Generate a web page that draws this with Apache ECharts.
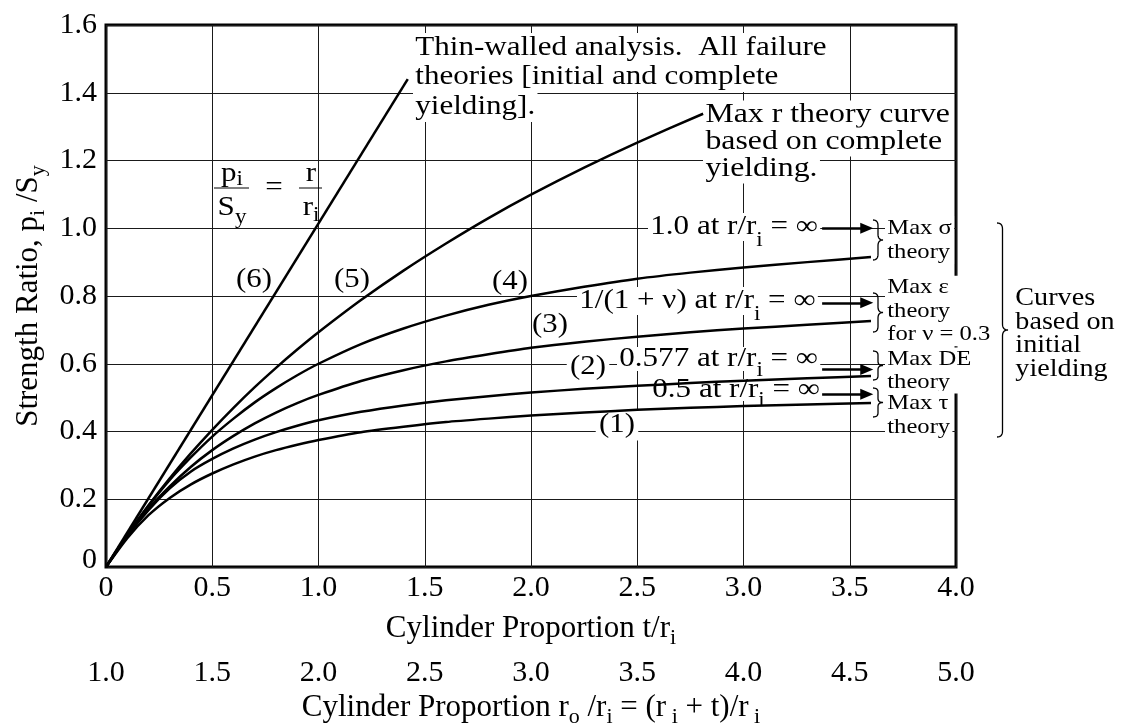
<!DOCTYPE html>
<html>
<head>
<meta charset="utf-8">
<script src="https://cdn.jsdelivr.net/npm/echarts@6/dist/echarts.min.js"></script>
<style>
  html, body { margin: 0; padding: 0; background: #fff; }
  #chart { width: 1124px; height: 725px; }
</style>
</head>
<body>
<div id="chart"></div>
<script>
// Thick-walled cylinder strength ratio chart: five theory curves plus the
// thin-walled straight line, annotated like the textbook figure.
const FONT = '"Liberation Serif", "Times New Roman", serif';

// t/r_i sample points and curve values
const tValues = [0, 0.1, 0.2, 0.3, 0.4, 0.5, 0.6, 0.7, 0.8, 0.9, 1.0, 1.2, 1.4, 1.6, 1.8, 2.0, 2.25, 2.5, 2.75, 3.0, 3.3, 3.6];
const maxShear = [0, 0.085, 0.153, 0.204, 0.244, 0.276, 0.303, 0.326, 0.345, 0.361, 0.375, 0.398, 0.414, 0.428, 0.438, 0.447, 0.456, 0.464, 0.47, 0.475, 0.48, 0.484];         // (1)
const maxDistortion = [0, 0.091, 0.168, 0.232, 0.282, 0.319, 0.35, 0.376, 0.398, 0.417, 0.433, 0.458, 0.477, 0.492, 0.504, 0.515, 0.526, 0.535, 0.543, 0.55, 0.557, 0.564]; // (2)
const maxStrain = [0, 0.093, 0.172, 0.238, 0.296, 0.345, 0.387, 0.424, 0.456, 0.484, 0.508, 0.549, 0.581, 0.607, 0.628, 0.647, 0.665, 0.68, 0.693, 0.704, 0.715, 0.726];    // (3)
const maxNormal = [0, 0.095, 0.18, 0.257, 0.324, 0.385, 0.438, 0.486, 0.528, 0.566, 0.6, 0.658, 0.704, 0.742, 0.774, 0.8, 0.827, 0.851, 0.869, 0.884, 0.9, 0.915];        // (4)
const tComplete = [0, 0.1, 0.2, 0.3, 0.4, 0.5, 0.6, 0.7, 0.8, 0.9, 1.0, 1.2, 1.4, 1.6, 1.8, 2.0, 2.25, 2.5, 2.81];
const completeYield = [0, 0.095, 0.182, 0.262, 0.336, 0.405, 0.47, 0.531, 0.588, 0.642, 0.693, 0.788, 0.875, 0.955, 1.03, 1.099, 1.179, 1.253, 1.338];          // (5)
const tThin = [0, 1.42];
const thinWall = [0, 1.44];                                                                                                                                   // (6)

// limit values pointed at by the arrows, and where the arrows run (t/r_i)
const arrowLevels = [1.0, 0.78, 0.583, 0.51];
const arrowFrom = 3.37;
const arrowTo = 3.58;

const pairs = (xs, ys) => xs.map((x, i) => [x, ys[i]]);

const chart = echarts.init(document.getElementById('chart'));

// subscript for axis names: bottom-aligned in a taller line
const sub = (size, lh) => ({ fontFamily: FONT, fontSize: size, lineHeight: lh, verticalAlign: 'bottom' });

function arrowLine(level) {
  return {
    silent: true,
    symbol: ['none', 'triangle'],
    symbolSize: [11, 13],
    lineStyle: { color: '#000', width: 2.5, type: 'solid' },
    label: { show: false },
    data: [[{ coord: [arrowFrom, level] }, { coord: [arrowTo, level] }]],
  };
}

function curve(name, data, level) {
  const s = {
    name, type: 'line', data, xAxisIndex: 0, yAxisIndex: 0,
    showSymbol: false, smooth: 0.2, silent: true,
    lineStyle: { color: '#000', width: 2.5 },
    z: 3,
  };
  if (level != null) s.markLine = arrowLine(level);
  return s;
}

// annotation text helper (the scanned type is wider than Liberation Serif);
// subscripts are pushed down with top padding on the {s|..} token
function note(text, x, y, size, opts = {}) {
  return {
    type: 'text', x, y, z: 1, scaleX: opts.scaleX || 1.15,
    style: {
      text, fontFamily: FONT, fontSize: size, fill: '#000',
      align: opts.align || 'left', verticalAlign: 'middle',
      lineHeight: opts.lineHeight || Math.round(size * 1.1),
      backgroundColor: opts.bg === false ? null : '#fff',
      padding: opts.padding || [0, 2, 0, 2],
      rich: { s: { fontFamily: FONT, fontSize: opts.subSize || 20, padding: [opts.subPad || 16, 0, 0, 0] } },
    },
  };
}

// "}" drawn as a polyline through quadratic segments
function brace(x, y1, y2, w) {
  const mid = (y1 + y2) / 2, r = Math.min(6, (y2 - y1) / 7), h = x + w / 2;
  const segs = [
    [[x, y1], [h, y1], [h, y1 + r]],
    [[h, mid - r], [h, mid], [x + w, mid]],
    [[x + w, mid], [h, mid], [h, mid + r]],
    [[h, y2 - r], [h, y2], [x, y2]],
  ];
  const pts = [];
  segs.forEach(([p0, c, p1]) => {
    for (let k = 0; k <= 8; k++) {
      const u = k / 8;
      pts.push([
        (1 - u) * (1 - u) * p0[0] + 2 * u * (1 - u) * c[0] + u * u * p1[0],
        (1 - u) * (1 - u) * p0[1] + 2 * u * (1 - u) * c[1] + u * u * p1[1],
      ]);
    }
  });
  return { type: 'polyline', z: 1, shape: { points: pts }, style: { stroke: '#000', lineWidth: 1.3, fill: null } };
}

const graphics = [
  note('Thin-walled analysis.  All failure', 413, 48, 27),
  note('theories [initial and complete', 413, 77, 27),
  note('yielding].', 413, 107, 27),
  note('Max r theory curve', 703, 115, 26.5, { scaleX: 1.2 }),
  note('based on complete', 703, 142, 26.5, { scaleX: 1.2 }),
  note('yielding.', 703, 169, 26.5, { scaleX: 1.2 }),
  // p_i / S_y = r / r_i
  note('p{s|i}', 232, 174, 27, { align: 'center', bg: false, subPad: 12 }),
  note('S{s|y}', 232, 208, 27, { align: 'center', bg: false, subPad: 20 }),
  { type: 'line', z: 1, shape: { x1: 214, y1: 188, x2: 249, y2: 188 }, style: { stroke: '#000', lineWidth: 1 } },
  note('=', 274, 188, 27, { align: 'center', bg: false }),
  note('r', 311, 174, 27, { align: 'center', bg: false }),
  note('r{s|i}', 311, 208, 27, { align: 'center', bg: false, subPad: 16 }),
  { type: 'line', z: 1, shape: { x1: 299, y1: 188, x2: 322, y2: 188 }, style: { stroke: '#000', lineWidth: 1 } },
  // curve numbers
  note('(6)', 254, 280, 28, { align: 'center', bg: false, scaleX: 1.1 }),
  note('(5)', 352, 280, 28, { align: 'center', bg: false, scaleX: 1.1 }),
  note('(4)', 510, 282, 28, { align: 'center', bg: false, scaleX: 1.1 }),
  note('(3)', 550, 325, 28, { align: 'center', bg: false, scaleX: 1.1 }),
  note('(2)', 588, 367, 28, { align: 'center', scaleX: 1.1, padding: [0, 3, 0, 3] }),
  note('(1)', 617, 425, 28, { align: 'center', scaleX: 1.1, padding: [0, 3, 0, 3] }),
  // limits at r/r_i = infinity
  note('1.0 at r/r{s|i} = ∞', 648, 227, 27, { lineHeight: 28, subPad: 28 }),
  note('1/(1 + ν) at r/r{s|i} = ∞', 577, 301, 27, { lineHeight: 28, subPad: 28 }),
  note('0.577 at r/r{s|i} = ∞', 617, 359, 27, { lineHeight: 24, subPad: 24 }),
  note('0.5 at r/r{s|i} = ∞', 650, 390, 27, { lineHeight: 22, subPad: 22 }),
  // theory names on the right
  brace(873, 220, 260, 10),
  brace(873, 293, 332, 10),
  brace(873, 351, 380, 10),
  brace(873, 388, 417, 10),
  note('Max σ\ntheory', 885, 240, 22, { lineHeight: 24, scaleX: 1.12 }),
  note('Max ε\ntheory\nfor ν = 0.3', 885, 311, 22, { lineHeight: 23.5, scaleX: 1.12 }),
  note('Max DE\ntheory', 885, 370.5, 22, { lineHeight: 23, scaleX: 1.12 }),
  note('Max τ\ntheory', 885, 415, 22, { lineHeight: 24, scaleX: 1.12 }),
  brace(997, 223, 437, 11),
  note('Curves\nbased on\ninitial\nyielding', 1013, 334, 24.5, { lineHeight: 23.5, bg: false, scaleX: 1.15 }),
];

const tickLabel = { fontFamily: FONT, fontSize: 30, color: '#000' };
const nameStyle = {
  fontFamily: FONT, fontSize: 31, color: '#000', lineHeight: 40,
  rich: { m: { fontFamily: FONT, fontSize: 31, lineHeight: 40 }, s: sub(22, 18) },
};

chart.setOption({
  animation: false,
  backgroundColor: '#fff',
  textStyle: { fontFamily: FONT, color: '#000' },
  grid: {
    left: 106, right: 168, top: 25, bottom: 158,
    show: true, borderColor: '#000', borderWidth: 3, backgroundColor: 'transparent',
    outerBoundsMode: 'none',
  },
  xAxis: [
    {
      type: 'value', min: 0, max: 4, interval: 0.5, position: 'bottom',
      axisLine: { show: false }, axisTick: { show: false },
      splitLine: { show: true, lineStyle: { color: '#1a1a1a', width: 1 } },
      axisLabel: { ...tickLabel, margin: 6, formatter: (v) => (v === 0 ? '0' : v.toFixed(1)) },
      name: '{m|Cylinder Proportion t/r}{s|i}',
      nameLocation: 'middle', nameGap: 42, nameMoveOverlap: false,
      nameTextStyle: nameStyle,
    },
    {
      type: 'value', min: 1, max: 5, interval: 0.5, position: 'bottom', offset: 85,
      axisLine: { show: false }, axisTick: { show: false }, splitLine: { show: false },
      axisLabel: { ...tickLabel, margin: 6, formatter: (v) => v.toFixed(1) },
      name: '{m|Cylinder Proportion r}{s|o}{m| /r}{s|i}{m| = (r}{s| i}{m| + t)/r}{s| i}',
      nameLocation: 'middle', nameGap: 36, nameMoveOverlap: false,
      nameTextStyle: nameStyle,
    },
  ],
  yAxis: {
    type: 'value', min: 0, max: 1.6, interval: 0.2,
    axisLine: { show: false }, axisTick: { show: false },
    splitLine: { show: true, lineStyle: { color: '#1a1a1a', width: 1 } },
    axisLabel: {
      ...tickLabel, margin: 9,
      formatter: (v) => (v === 0 ? '{z|0}' : v.toFixed(1)),
      rich: { z: { fontFamily: FONT, fontSize: 30, padding: [0, 0, 14, 0] } },
    },
    name: '{m|Strength Ratio, p}{s|i}{m| /S}{s|y}',
    nameLocation: 'middle', nameGap: 57, nameMoveOverlap: false,
    nameTextStyle: nameStyle,
  },
  series: [
    curve('Max τ theory', pairs(tValues, maxShear), arrowLevels[3]),
    curve('Max DE theory', pairs(tValues, maxDistortion), arrowLevels[2]),
    curve('Max ε theory', pairs(tValues, maxStrain), arrowLevels[1]),
    curve('Max σ theory', pairs(tValues, maxNormal), arrowLevels[0]),
    curve('Max r theory, complete yielding', pairs(tComplete, completeYield)),
    curve('Thin-walled', pairs(tThin, thinWall)),
  ],
  graphic: graphics,
});
</script>
</body>
</html>
